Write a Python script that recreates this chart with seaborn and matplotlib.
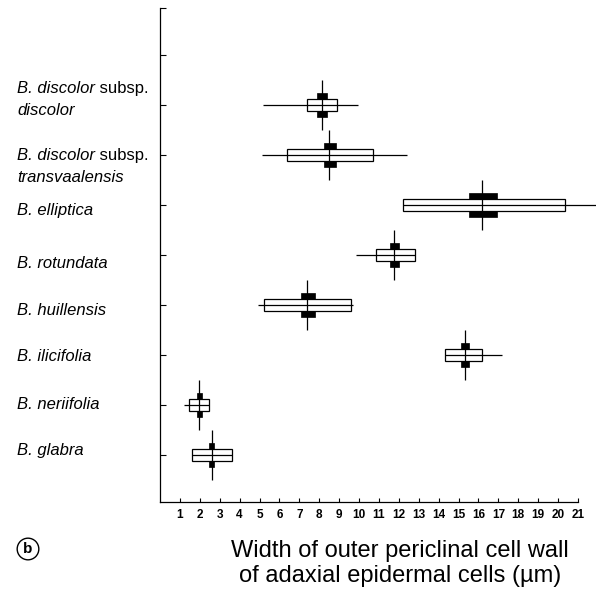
"""
Width of outer periclinal cell wall of adaxial epidermal cells, per species.
Range line, box, mean line and black mean-interval squares per taxon.
"""

import pandas as pd
import matplotlib.pyplot as plt
import matplotlib.transforms as mtransforms
from matplotlib.patches import Rectangle
import seaborn as sns

# -------------------------------------------------------------------------
# Data, top to bottom
# each label: list of lines, each line a list of (text, italic?)
labels = [
    [[("B. discolor", True), (" subsp.", False)], [("discolor", True)]],
    [[("B. discolor", True), (" subsp.", False)], [("transvaalensis", True)]],
    [[("B. elliptica", True)]],
    [[("B. rotundata", True)]],
    [[("B. huillensis", True)]],
    [[("B. ilicifolia", True)]],
    [[("B. neriifolia", True)]],
    [[("B. glabra", True)]],
]
mean_val = [8.15, 8.5, 16.2, 11.75, 7.4, 15.3, 1.95, 2.6]
box_lo = [7.4, 6.4, 12.2, 10.85, 5.2, 14.3, 1.45, 1.6]
box_hi = [8.9, 10.7, 20.35, 12.8, 9.6, 16.2, 2.45, 3.6]
range_lo = [5.15, 5.1, 12.2, 9.85, 4.9, 14.3, 1.2, 1.6]
range_hi = [9.95, 12.4, 21.9, 12.8, 9.7, 17.2, 2.45, 3.6]
ci_lo = [7.9, 8.25, 15.5, 11.55, 7.1, 15.1, 1.85, 2.45]
ci_hi = [8.4, 8.85, 16.95, 12.0, 7.8, 15.5, 2.1, 2.7]
x_ticks = list(range(1, 22))

# label nudges in pixels (layout only), positive = down
label_dy = [-7, 10, 4, 7, 4, 0, -2, -6]

df = pd.DataFrame({
    "mean": mean_val,
    "box_lo": box_lo, "box_hi": box_hi,
    "range_lo": range_lo, "range_hi": range_hi,
    "ci_lo": ci_lo, "ci_hi": ci_hi,
})
df["ypos"] = range(len(df), 0, -1)

# -------------------------------------------------------------------------
sns.set_theme(style="ticks")
plt.rcParams["font.family"] = ["Liberation Sans", "DejaVu Sans"]
for key in ("text.color", "axes.labelcolor", "xtick.color", "ytick.color",
            "axes.edgecolor"):
    plt.rcParams[key] = "black"

W, H = 596, 590
fig = plt.figure(figsize=(W / 100, H / 100), dpi=100)
ax = fig.add_axes([160 / W, 1 - 502 / H, 418 / W, 494 / H])

half_box = 0.12
sq_h = 0.12
lw = 0.9

# range lines (pass through the boxes)
ax.hlines(df["ypos"], df["range_lo"], df["range_hi"], color="black",
          lw=lw, clip_on=False, zorder=3)

for _, r in df.iterrows():
    # open box
    ax.add_patch(Rectangle((r["box_lo"], r["ypos"] - half_box),
                           r["box_hi"] - r["box_lo"], 2 * half_box,
                           fc="white", ec="black", lw=lw, zorder=2))
    # black squares above and below the box
    for y0 in (r["ypos"] + half_box, r["ypos"] - half_box - sq_h):
        ax.add_patch(Rectangle((r["ci_lo"], y0), r["ci_hi"] - r["ci_lo"], sq_h,
                               fc="black", ec="black", lw=0.5, zorder=4))

# vertical mean lines
sns.scatterplot(data=df, x="mean", y="ypos", marker="|", s=36 ** 2,
                color="black", linewidth=lw, ax=ax, zorder=5, legend=False)

ax.set_xlim(0, 21)
ax.set_ylim(0.06, 9.94)
ax.set_xticks(x_ticks)
ax.set_xticklabels([str(t) for t in x_ticks], fontsize=8.5, fontweight="bold")
ax.set_yticks(list(range(1, 10)) + [9.94])
ax.set_yticklabels([])
ax.tick_params(axis="y", direction="in", length=4, width=0.8)
ax.tick_params(axis="x", direction="in", length=3, width=0.8, pad=5)
ax.set_xlabel("")
ax.set_ylabel("")
sns.despine(ax=ax)
for s in ("left", "bottom"):
    ax.spines[s].set_linewidth(0.9)

# species labels, left aligned at the figure margin (mixed italic / upright)
renderer = fig.canvas.get_renderer()
ident = mtransforms.IdentityTransform()
label_fs = 12
for (_, r), lab, dy in zip(df.iterrows(), labels, label_dy):
    centre = ax.transData.transform((0, r["ypos"]))[1] - dy
    n = len(lab)
    for j, line in enumerate(lab):
        line_centre = centre + (n - 1) * 11 - j * 22
        x = 17
        for txt, ital in line:
            t = fig.text(x, line_centre - 6, txt, transform=ident,
                         ha="left", va="baseline", fontsize=label_fs,
                         fontstyle="italic" if ital else "normal")
            x += t.get_window_extent(renderer).width

fig.text(400 / W, 1 - 551 / H, "Width of outer periclinal cell wall",
         ha="center", va="center", fontsize=17)
fig.text(400 / W, 1 - 576 / H, "of adaxial epidermal cells (µm)",
         ha="center", va="center", fontsize=17)
fig.text(28 / W, 1 - 549 / H, "b", ha="center", va="center",
         fontsize=11, fontweight="bold",
         bbox=dict(boxstyle="circle,pad=0.25", fc="white", ec="black", lw=1))

fig.savefig("out.png", dpi=100)
